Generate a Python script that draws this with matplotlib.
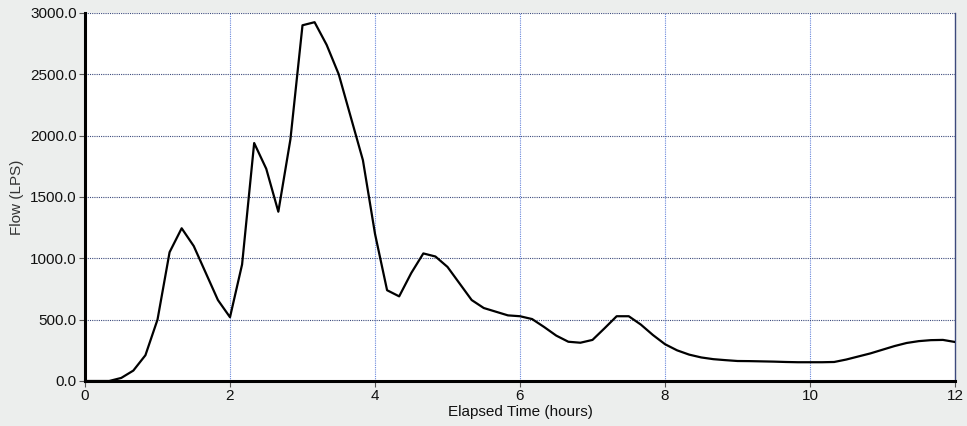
import numpy as np
import matplotlib
matplotlib.use("Agg")
import matplotlib.pyplot as plt

# elapsed time in hours (10 minute reporting step)
hours = np.arange(73) / 6.0

flow_lps = [
    0, 0, 0, 25, 85, 210, 500, 1050, 1245, 1100, 880, 660,
    520, 950, 1940, 1730, 1380, 1970, 2900, 2925, 2740, 2500, 2150, 1800,
    1200, 740, 690, 880, 1040, 1015, 930, 795, 660, 595, 565, 535,
    528, 505, 440, 370, 320, 312, 335, 430, 528, 528, 460, 375,
    300, 250, 215, 192, 178, 170, 163, 162, 160, 158, 155, 153,
    153, 153, 155, 175, 200, 225, 255, 285, 310, 325, 333, 335,
    318,
]

x_ticks = [0, 2, 4, 6, 8, 10, 12]
y_ticks = [0, 500, 1000, 1500, 2000, 2500, 3000]

plt.rcParams['font.family'] = ['Liberation Sans', 'DejaVu Sans']

bg = '#eceeed'
fig = plt.figure(figsize=(9.67, 4.26), dpi=100, facecolor=bg)
ax = fig.add_axes([85 / 967, 1 - 381 / 426, 870 / 967, 368 / 426])
ax.set_facecolor('white')

ax.plot(hours, flow_lps, color='black', linewidth=1.6, zorder=3)

ax.set_xlim(0, 12)
ax.set_ylim(0, 3000)
ax.set_xticks(x_ticks)
ax.set_xticklabels([str(t) for t in x_ticks])
ax.set_yticks(y_ticks)
ax.set_yticklabels(['%.1f' % v for v in y_ticks])

# grid: blue dotted verticals, dark dotted horizontals
for t in x_ticks[1:-1]:
    ax.axvline(t, color='#6a88dc', linestyle=(0, (1, 1)), linewidth=0.8, zorder=1)
for v in y_ticks[1:]:
    ax.axhline(v, color='#3c4a7c', linestyle=(0, (1, 1)), linewidth=0.8, zorder=1)

ax.spines['left'].set_linewidth(2.2)
ax.spines['left'].set_color('black')
ax.spines['bottom'].set_linewidth(2.2)
ax.spines['bottom'].set_color('black')
ax.spines['top'].set_visible(False)
ax.spines['right'].set_color('#3c4a7c')
ax.spines['right'].set_linewidth(1.0)
ax.spines['right'].set_linestyle((0, (1, 1)))

ax.tick_params(axis='both', direction='out', length=4, width=0.8, color='#555555',
               labelsize=11, labelcolor='#111111', pad=2)

ax.set_xlabel('Elapsed Time (hours)', fontsize=11, color='#111111', labelpad=1)
ax.set_ylabel('Flow (LPS)', fontsize=11, color='#333333', labelpad=4)

fig.savefig('out.png', dpi=100, facecolor=bg)
